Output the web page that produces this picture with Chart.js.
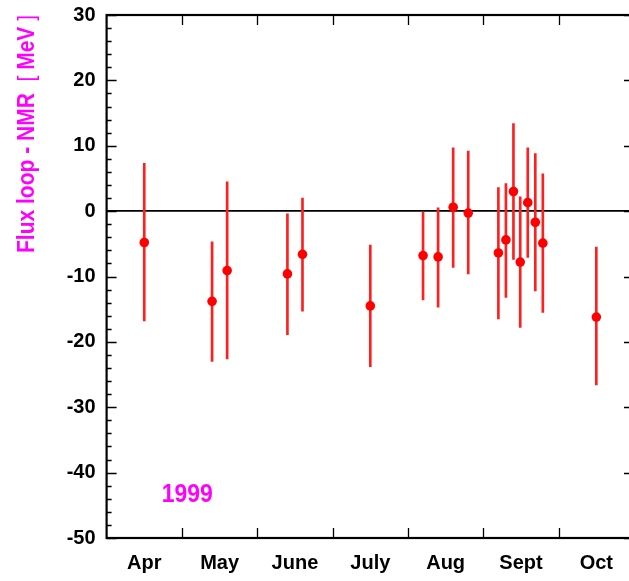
<!DOCTYPE html>
<html>
<head>
<meta charset="utf-8">
<script src="https://cdn.jsdelivr.net/npm/chart.js@4/dist/chart.umd.min.js"></script>
<style>
  html, body { margin: 0; padding: 0; overflow: hidden; background: #fff; }
  canvas { display: block; }
</style>
</head>
<body>
<canvas id="myChart" width="640" height="581"></canvas>
<script>
// month bins, x axis is in "months since 1 Apr" (one unit per month)
let monthLabels = ['Apr', 'May', 'June', 'July', 'Aug', 'Sept', 'Oct'];
let xPos   = [0.5, 1.4, 1.6, 2.4, 2.6, 3.5, 4.2, 4.4, 4.6, 4.8, 5.2, 5.3, 5.4, 5.49, 5.59, 5.69, 5.79, 6.5];
let values = [-4.8, -13.8, -9.1, -9.6, -6.6, -14.5, -6.8, -7.0, 0.6, -0.3, -6.4, -4.4, 3.0, -7.8, 1.3, -1.7, -4.9, -16.2];
let highs  = [7.3, -4.7, 4.5, -0.4, 2.0, -5.2, 0.0, 0.5, 9.7, 9.2, 3.6, 4.2, 13.4, 2.2, 9.7, 8.8, 5.7, -5.5];
let lows   = [-16.8, -23.0, -22.6, -18.9, -15.3, -23.8, -13.6, -14.7, -8.6, -9.6, -16.5, -13.2, -7.4, -17.8, -7.1, -12.2, -15.5, -26.6];
let yTicks = [30, 20, 10, 0, -10, -20, -30, -40, -50];
// title pieces: [text, bold?]
let yTitle = [['Flux loop - NMR  ', true], ['[', false], [' MeV ', true], [']', false]];
let yearText = '1999';

let magenta = '#ff00ff';
let fontFam = "'Liberation Sans', Arial, sans-serif";

let pointData = xPos.map((x, i) => ({ x: x, y: values[i] }));
let errData = xPos.map((x, i) => ({ x: x, y: [lows[i], highs[i]] }));

// frame, inward ticks, axis title and the year label
let framePlugin = {
    id: 'frame',
    afterDraw(chart) {
        let c = chart.ctx;
        let a = chart.chartArea;
        let xs = chart.scales.x;
        let ys = chart.scales.y;
        c.save();
        c.strokeStyle = '#000';
        c.lineWidth = 1.3;
        // month boundaries, top and bottom
        for (let m = 1; m < monthLabels.length; m++) {
            let px = Math.round(xs.getPixelForValue(m)) + 0.5;
            c.beginPath();
            c.moveTo(px, a.bottom); c.lineTo(px, a.bottom - 10);
            c.moveTo(px, a.top); c.lineTo(px, a.top + 10);
            c.stroke();
        }
        // y ticks every 2, long every 10
        for (let v = ys.min; v <= ys.max; v += 2) {
            let py = Math.round(ys.getPixelForValue(v)) + 0.5;
            let len = v % 10 === 0 ? 10 : 5;
            c.beginPath();
            c.moveTo(a.left, py); c.lineTo(a.left + len, py);
            c.moveTo(a.right, py); c.lineTo(a.right - len, py);
            c.stroke();
        }
        c.lineWidth = 2.2;
        c.strokeRect(a.left, a.top, a.right - a.left, a.bottom - a.top);

        // y title, glyphs a bit taller than wide like the original
        c.fillStyle = magenta;
        c.translate(34, 15);
        c.rotate(-Math.PI / 2);
        c.scale(1, 1.18);
        c.textAlign = 'left';
        c.textBaseline = 'alphabetic';
        let total = 0;
        yTitle.forEach(p => {
            c.font = (p[1] ? 'bold ' : '') + '21px ' + fontFam;
            total += c.measureText(p[0]).width;
        });
        let tx = -total;
        yTitle.forEach(p => {
            c.font = (p[1] ? 'bold ' : '') + '21px ' + fontFam;
            c.fillText(p[0], tx, 0);
            tx += c.measureText(p[0]).width;
        });
        c.restore();

        c.save();
        c.fillStyle = magenta;
        c.font = 'bold 23px ' + fontFam;
        c.textAlign = 'center';
        c.textBaseline = 'middle';
        let yx = xs.getPixelForValue(1.07), yy = ys.getPixelForValue(-43.4);
        c.translate(yx, yy);
        c.scale(1, 1.1);
        c.fillText(yearText, 0, 0);
        c.restore();
    }
};

let ctx = document.getElementById('myChart').getContext('2d');
let myChart = new Chart(ctx, {
    type: 'scatter',
    data: {
        datasets: [{
            type: 'bar',
            label: 'error',
            data: errData,
            backgroundColor: '#ff1f1f',
            borderWidth: 0,
            barThickness: 2,
            order: 2
        }, {
            type: 'scatter',
            label: 'Flux loop - NMR',
            data: pointData,
            backgroundColor: '#ff0000',
            borderWidth: 0,
            pointRadius: 4.8,
            order: 1
        }]
    },
    options: {
        responsive: false,
        animation: false,
        events: [],
        layout: { padding: { top: 15, right: 6, left: 0, bottom: 0 } },
        plugins: {
            legend: { display: false },
            tooltip: { enabled: false }
        },
        scales: {
            x: {
                type: 'linear',
                min: 0,
                max: monthLabels.length,
                offset: false,
                afterFit: s => { s.height = 43; s.paddingLeft = 0; s.paddingRight = 0; },
                afterBuildTicks: s => {
                    s.ticks = monthLabels.map((m, i) => ({ value: i + 0.5 }));
                },
                ticks: {
                    autoSkip: false,
                    maxRotation: 0,
                    padding: 5,
                    color: '#000',
                    font: { family: fontFam, size: 20, weight: 'bold' },
                    callback: v => monthLabels[Math.floor(v)]
                },
                grid: { display: false },
                border: { display: false }
            },
            y: {
                min: -50,
                max: 30,
                afterFit: s => { s.width = 106.6; s.paddingTop = 0; s.paddingBottom = 0; },
                afterBuildTicks: s => {
                    s.ticks = yTicks.map(v => ({ value: v }));
                },
                ticks: {
                    padding: 11,
                    color: '#000',
                    font: { family: fontFam, size: 20, weight: 'bold' }
                },
                grid: {
                    drawTicks: false,
                    lineWidth: 1.8,
                    color: c => (c.tick && c.tick.value === 0) ? '#000' : 'rgba(0,0,0,0)'
                },
                border: { display: false }
            }
        }
    },
    plugins: [framePlugin]
});
</script>
</body>
</html>
